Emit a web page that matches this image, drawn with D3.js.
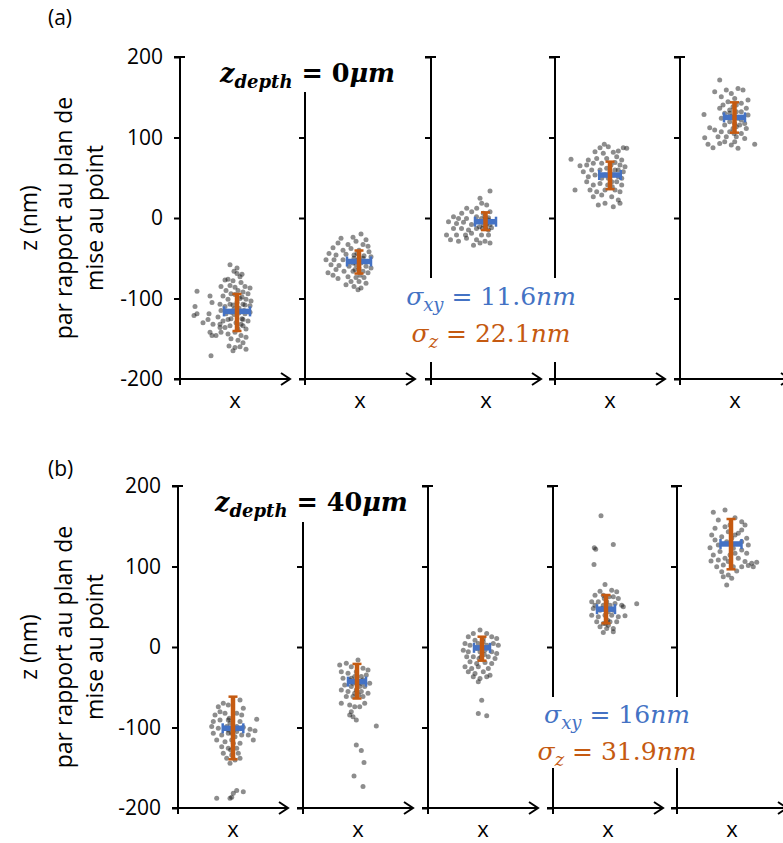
<!DOCTYPE html>
<html><head><meta charset="utf-8">
<script src="https://cdn.jsdelivr.net/npm/d3@7"></script>
<style>body{margin:0;background:#fff;} svg{display:block;}</style>
</head><body>
<svg id="chart" width="783" height="843"></svg>
<script>
// ---------------- DATA ----------------
const panelLabels = ["(a)", "(b)"];
const depthValues = ["0", "40"];
const sigmaXYValues = ["11.6", "16"];
const sigmaZValues = ["22.1", "31.9"];
const yTickValues = [-200, -100, 0, 100, 200];
const yAxisTitle = ["z (nm)", "par rapport au plan de", "mise au point"];
const xAxisLabel = "x";

// panel (a) cluster summaries (nm)
const meanXA = [2, -1, -0.5, 0, -0.5];
const meanZA = [-116, -54, -4.6, 53.4, 125];
const errXYA = [13, 12, 10.5, 10.8, 10.5];
const errZLowA = [-140.4, -69, -15, 35.8, 106];
const errZHighA = [-94.4, -40.4, 7, 70, 143.7];

// panel (b) cluster summaries (nm)
const meanXB = [0, -1, -1, -2, -1];
const meanZB = [-101, -43, -1, 47, 128];
const errXYB = [10.3, 9, 8, 9, 10.5];
const errZLowB = [-139.5, -64, -17, 29.4, 96.5];
const errZHighB = [-61.7, -21, 12.8, 64.6, 159];

// localisations: [x offset from mean (nm), z (nm)]
const pointsA1 = [[0,-69],[3,-73],[-9,-76],[-4,-78],[-12,-77],[4,-80],[-7,-84],[-2,-86],[8,-85],[13,-87],[-16,-85],[-11,-90],[1,-90],[6,-92],[11,-94],[-6,-94],[-14,-97],[-9,-101],[9,-101],[14,-103],[-17,-107],[-12,-110],[-7,-107],[6,-107],[13,-109],[-16,-115],[-11,-119],[-6,-117],[8,-119],[13,-117],[-19,-123],[-14,-128],[-9,-126],[6,-126],[11,-128],[-17,-132],[-12,-136],[-7,-134],[6,-134],[9,-138],[-16,-142],[-9,-144],[-2,-142],[4,-146],[9,-148],[-6,-150],[1,-152],[6,-155],[-8,-159],[-2,-161],[3,-160],[9,-163],[-4,-165],[-40,-91],[-27,-97],[-25,-105],[-42,-110],[-40,-119],[-28,-119],[-43,-121],[-29,-126],[-34,-130],[-24,-132],[-27,-142],[-25,-146],[-21,-146],[-26,-171],[-17,-136],[0,-105],[2,-112],[-3,-120],[5,-125],[-1,-130],[3,-100],[-4,-108],[7,-115],[1,-138],[-2,-95],[4,-132],[-6,-125],[8,-108],[2,-118],[-3,-113],[5,-98],[-7,-58],[0,-62],[-3,-66],[5,-70]];
const pointsA2 = [[2,-20],[-6,-24],[7,-27],[-18,-25],[-21,-31],[-3,-29],[-11,-33],[4,-33],[9,-35],[-26,-37],[-16,-40],[-8,-38],[0,-40],[10,-42],[-30,-44],[-23,-46],[-13,-45],[-5,-46],[5,-47],[12,-48],[-33,-52],[-25,-52],[-16,-52],[-8,-54],[9,-54],[-28,-58],[-20,-59],[-10,-60],[7,-60],[12,-62],[-23,-64],[-15,-66],[-6,-66],[4,-66],[9,-68],[-31,-68],[-26,-71],[-11,-73],[-3,-74],[5,-74],[-21,-75],[-8,-79],[0,-79],[7,-81],[-13,-83],[-5,-85],[2,-87],[-1,-89],[-5,-50],[-1,-52],[2,-56],[-3,-58],[0,-62],[-6,-56],[4,-50],[-2,-44],[1,-71],[-4,-64]];
const pointsA3 = [[4.5,33.5],[-5.5,24.4],[-3.8,18.2],[-18.8,12],[1.2,16],[-8.8,12],[-13.8,7.8],[-23.8,5.8],[-2.2,5.8],[4.5,7.8],[-32,1.6],[-27,-0.5],[-19,-0.5],[-9,1.6],[3,0.4],[-37,-4.6],[-29,-6.7],[-22,-5.4],[-14,-8],[4.5,-8],[8,-4.6],[-32,-13],[-24,-13],[-17,-15],[-9,-13],[3,-15],[6,-12],[-39,-21],[-29,-21],[-20,-21],[-14,-19],[-4,-21],[3,-21],[-35,-27],[-27,-29],[-19,-25],[-9,-27],[-0.5,-29],[4.5,-31],[-12,-34],[-5.5,-31],[-4,-0.5],[-0.5,1.6],[1,-6.7],[-2,-8.7],[-5.5,-4.6],[3,-2.5],[-3,-13],[0.5,-11],[-6,-11]];
const pointsA4 = [[-5.7,91.5],[-10,87.4],[-1.7,88.6],[13.3,87.4],[16.7,86.5],[-15,82.4],[-6.7,80.3],[3.3,81.6],[8.3,83.2],[-21.7,72],[-13.3,74],[-3.3,74],[6.7,76.2],[11.7,72],[-30,65],[-23.3,65.8],[-16.7,67.9],[-8.3,67.9],[5,69],[10,65.8],[15,63.8],[-26.7,57.5],[-18.3,59.6],[-10,59.6],[8.3,59.6],[13.3,57.5],[-21.7,51.3],[-15,53.4],[-8.3,49.3],[8.3,51.3],[11.7,49.3],[-35,34.8],[-23.3,45.1],[-16.7,41],[-10,43],[6.7,45.1],[11.7,41],[-20,34.8],[-13.3,32.7],[-5,34.8],[5,34.8],[10,32.7],[-16.7,26.5],[-8.3,28.6],[1.7,26.5],[8.3,22.3],[-11.7,16.1],[-5,18.2],[3.3,14],[10,18.2],[-39,72.9],[-3.3,61.7],[0,57.5],[3.3,53.4],[-1.7,49.3],[1.7,45.1],[-5,53.4],[5,59.6],[-2.3,41],[1,65.8],[2.3,38.9]];
const pointsA5 = [[-14.8,171.4],[-19.8,156.9],[-8.2,159],[3.5,161],[8.5,159],[-3.2,154.8],[-13.2,150.7],[13.5,146.5],[0.2,148.6],[-6.5,144.5],[6.8,142.4],[-11.5,140.3],[-14.8,136.2],[11.8,136.2],[-4.8,134.1],[6.8,132],[-9.8,130],[13.5,127.9],[-30.5,128.7],[-13.2,123.8],[-4.8,119.6],[6.8,121.7],[10.2,117.5],[-24.8,112.2],[-9.8,115.5],[1.8,113.4],[11.8,111.3],[-19.8,109.3],[-13.2,107.2],[-4.8,107.2],[6.8,105.1],[-29.8,99.7],[-16.5,101],[-8.2,101],[1.8,101],[10.2,98.9],[-26.5,91.5],[-21.5,87.3],[-14.8,92.7],[-3.2,90.6],[3.5,86.5],[20.2,91.5],[-9.8,94.8],[0.2,94.8],[-1.5,138.2],[1.8,132],[-3.2,125.8],[3.5,123.8],[0.2,117.5],[-1.5,111.3],[1.8,140.3],[-4.8,130],[5.2,115.5],[-0.5,105.1]];
const pointsB1 = [[-9.7,-69.9],[-14.7,-74.1],[7,-65.8],[-4.7,-72],[-13,-80.3],[10.3,-76.2],[-18,-84.4],[-8,-82.4],[3.7,-82.4],[8.7,-84.4],[-19.7,-92.7],[-13,-90.6],[-4.7,-90.6],[7,-92.7],[23.7,-89.8],[-21.3,-98.9],[-14.7,-101],[-6.3,-98.9],[10.3,-99.8],[17,-102.2],[22,-103.9],[-19.7,-107.2],[-11.3,-109.3],[-4.7,-107.2],[8.7,-109.3],[15.3,-109.3],[20.3,-115.5],[-16.3,-115.5],[-8,-117.6],[-1.3,-115.5],[7,-119.6],[-11.3,-123.8],[-4.7,-125.8],[3.7,-125.8],[-9.7,-132],[-1.3,-134.1],[5.3,-132],[-6.3,-138.3],[2,-140.3],[7,-138.3],[-3,-144.5],[-16.3,-188],[-1.3,-186.7],[3.7,-178.4],[0.3,-181.7],[10.3,-179.7],[-3,-188],[-3,-94.8],[0.3,-103.1],[2,-111.4],[-1.3,-107.2],[3.7,-98.9],[-3.7,-88.6],[0.3,-119.6],[-2.3,-127.9],[3.7,-105.1],[-4.7,-103.1]];
const pointsB2 = [[1,-16.1],[-10.7,-20.2],[-17.3,-22.3],[-5.7,-24.4],[6,-26.4],[11,-28.5],[-15.7,-30.6],[-9,-32.7],[-0.7,-30.6],[9.3,-34.7],[-14,-38.9],[-7.3,-40.9],[6,-40.9],[12.7,-45.1],[-12.3,-47.1],[-5.7,-49.2],[7.7,-49.2],[-15.7,-53.4],[-9,-55.4],[4.3,-55.4],[11,-57.5],[-10.7,-61.6],[-4,-61.6],[6,-61.6],[-15.7,-69.9],[-7.3,-72],[-2.3,-74.1],[2.7,-74.1],[7.7,-69.9],[-5.7,-80.3],[-4,-86.5],[-0.7,-90.6],[-7.3,-84.4],[19.3,-98.1],[-0.7,-121.7],[4.3,-128.7],[7,-143.6],[-3,-160.2],[6,-173.4],[-2.3,-36.8],[1,-43],[2.7,-49.2],[-0.7,-53.4],[-4,-45.1],[4.3,-36.8],[-2.3,-57.5],[1.7,-59.6],[-5.7,-38.9],[4.3,-45.1]];
const pointsB3 = [[-2,21],[-8.7,16.8],[4.7,16.8],[-13.7,12.7],[9.7,12.7],[14.7,10.6],[-7,8.5],[1.3,10.6],[-17,4.4],[-12,2.3],[11.3,4.4],[16.3,2.3],[-18.7,-3.9],[-13.7,-6],[9.7,-6],[14.7,-8],[-15.3,-12.2],[-8.7,-12.2],[6.3,-12.2],[13,-14.2],[-12,-18.4],[-5.3,-20.5],[3,-19.2],[9.7,-20.5],[-17,-24.6],[-10.3,-26.7],[-3.7,-24.6],[6.3,-26.7],[-13.7,-30.8],[-7,-32.9],[1.3,-30.8],[8,-35],[-8.7,-37],[-2,-39.1],[4.7,-37],[-3.7,-43.2],[-0.3,-66],[-3.7,-82.6],[4.7,-85.5],[-3.7,4.4],[-0.3,0.2],[3,-3.9],[-2,-6],[1.3,6.5],[-5.3,-1.8],[4.7,2.3],[-1,-12.2],[2.3,-9.3],[-3,-14.2]];
const pointsB4 = [[-5,162.9],[-11.7,123.2],[-10.3,121.5],[7.3,127.3],[-12,102.5],[30.7,53.6],[-1,77.6],[-6,69.4],[5.7,70.6],[10.7,68.5],[-11,64.4],[-2.7,64.4],[7.3,62.3],[12.3,60.2],[-14.3,56.1],[-7.7,56.1],[9,54],[15.7,52],[-12.7,47.8],[-6,45.8],[7.3,45.8],[17.3,49.9],[-14.3,39.5],[-7.7,37.5],[5.7,39.5],[12.3,37.5],[19,38.7],[-9.3,31.3],[-2.7,29.2],[4,31.3],[10.7,31.3],[-6,25.1],[0.7,23],[7.3,23],[-2.7,18],[7.3,18.8],[2.3,27.1],[-11,52],[-2.7,52],[0.7,56.1],[2.3,43.7],[-1,39.5],[-4.3,47.8],[4,52],[1.7,33.3],[-1.7,60.2],[3,62.3],[-0.3,29.2]];
const pointsB5 = [[-17.7,167.3],[-6,170.2],[-12.7,157.8],[4,160.7],[10.7,155.7],[14,151.6],[-16,147.5],[-6,149.5],[10.7,145.4],[-19.3,139.2],[-9.3,137.1],[7.3,141.2],[15.7,135],[-21,123.4],[-12.7,126.8],[10.7,130.9],[17.3,126.8],[-17.7,114.3],[-11,118.5],[10.7,120.5],[15.7,116.4],[-20,106.9],[-12.7,108.1],[-6,110.2],[7.3,110.2],[14,106.1],[20.7,104],[25.7,105.2],[-14.3,99.8],[-7.7,101.9],[10.7,99.8],[17.3,101.1],[-9.3,93.6],[-2.7,89.5],[5.7,94.5],[-7.7,87.4],[0.7,85.4],[-4.3,77.1],[22.3,99.8],[-16,133],[-2.7,143.3],[0.7,135],[2.3,122.6],[-1,114.3],[-4.3,130.9],[4,139.2],[-2.7,106.1],[2.3,99.8],[-1,151.6],[4,116.4]];

// ---------------- LAYOUT ----------------
const BLUE = "#4472C4", ORANGE = "#C55A11";
const SANS = "'Open Sans', 'Liberation Sans', sans-serif";
const SERIF = "'DejaVu Serif', 'Liberation Serif', serif";
const svg = d3.select("#chart");

const panels = [
  {label: panelLabels[0], depth: depthValues[0], sxy: sigmaXYValues[0], sz: sigmaZValues[0],
   meanX: meanXA, meanZ: meanZA, errXY: errXYA, zLo: errZLowA, zHi: errZHighA,
   points: [pointsA1, pointsA2, pointsA3, pointsA4, pointsA5],
   axisX: [180, 305, 431, 555, 680], top: 57, bottom: 379, axis2Top: 92,
   labelY: 25, titleX: 220, titleY: 82, sigmaX: 491, sigmaY1: 305, sigmaY2: 342,
   gap: {x: 404, y: 278, w: 176, h: 84}},
  {label: panelLabels[1], depth: depthValues[1], sxy: sigmaXYValues[1], sz: sigmaZValues[1],
   meanX: meanXB, meanZ: meanZB, errXY: errXYB, zLo: errZLowB, zHi: errZHighB,
   points: [pointsB1, pointsB2, pointsB3, pointsB4, pointsB5],
   axisX: [178, 303, 428, 553, 677], top: 486, bottom: 808, axis2Top: 522,
   labelY: 476, titleX: 215, titleY: 511, sigmaX: 617, sigmaY1: 723, sigmaY2: 760,
   gap: {x: 536, y: 697, w: 165, h: 71}}
];

panels.forEach(P => {
  const g = svg.append("g");
  const y = d3.scaleLinear().domain([-200, 200]).range([P.bottom, P.top]);

  g.append("text").attr("x", 48).attr("y", P.labelY)
    .attr("font-family", SANS).attr("font-size", 21).text(P.label);

  // y-axis title
  const yc = (P.top + P.bottom) / 2;
  [28, 63, 94].forEach((xx, i) => {
    g.append("text").attr("transform", `translate(${xx},${yc}) rotate(-90)`)
      .attr("text-anchor", "middle").attr("dominant-baseline", "central")
      .attr("font-family", SANS).attr("font-size", 23).text(yAxisTitle[i]);
  });

  P.axisX.forEach((ax, k) => {
    const x = d3.scaleLinear().domain([-55, 55]).range([ax, ax + 110]);
    const sg = g.append("g");
    // y axis
    const ticks = k === 1 ? yTickValues.filter(v => v < 200) : yTickValues;
    const axis = d3.axisLeft(y).tickValues(ticks).tickSize(6).tickSizeOuter(0)
      .tickFormat(d => d < 0 ? "-" + Math.abs(d) : String(d));
    const ag = sg.append("g").attr("transform", `translate(${ax},0)`).call(axis);
    ag.select(".domain").remove();
    ag.selectAll(".tick line").attr("stroke", "#000").attr("stroke-width", 2);
    if (k === 0) {
      ag.selectAll(".tick text").attr("font-family", SANS).attr("font-size", 21)
        .attr("fill", "#000").attr("x", -17);
    } else {
      ag.selectAll(".tick text").remove();
    }
    const top = k === 1 ? P.axis2Top : y(200);
    sg.append("line").attr("x1", ax).attr("x2", ax).attr("y1", top).attr("y2", P.bottom + 6)
      .attr("stroke", "#000").attr("stroke-width", 2);
    if (k !== 1) sg.append("line").attr("x1", ax - 6).attr("x2", ax + 5)
      .attr("y1", y(200)).attr("y2", y(200)).attr("stroke", "#000").attr("stroke-width", 2);
    // x axis with arrow
    const xe = x.range()[1];
    sg.append("line").attr("x1", ax - 6).attr("x2", xe).attr("y1", P.bottom).attr("y2", P.bottom)
      .attr("stroke", "#000").attr("stroke-width", 2);
    sg.append("path").attr("d", `M${xe - 9},${P.bottom - 6}L${xe},${P.bottom}L${xe - 9},${P.bottom + 6}`)
      .attr("fill", "none").attr("stroke", "#000").attr("stroke-width", 2);
    sg.append("text").attr("x", x(0)).attr("y", P.bottom + 29).attr("text-anchor", "middle")
      .attr("font-family", SANS).attr("font-size", 22).text(xAxisLabel);

    // points
    const mx = P.meanX[k];
    sg.append("g").selectAll("circle").data(P.points[k]).join("circle")
      .attr("cx", d => x(mx + d[0])).attr("cy", d => y(d[1])).attr("r", 2.5)
      .attr("fill", "#111").attr("fill-opacity", 0.48);

    // blue xy error bar
    const bz = y(P.meanZ[k]);
    const bx0 = x(mx - P.errXY[k]), bx1 = x(mx + P.errXY[k]);
    sg.append("line").attr("x1", bx0).attr("x2", bx1).attr("y1", bz).attr("y2", bz)
      .attr("stroke", BLUE).attr("stroke-width", 5.5);
    [bx0, bx1].forEach(bx => sg.append("line").attr("x1", bx).attr("x2", bx)
      .attr("y1", bz - 5).attr("y2", bz + 5).attr("stroke", BLUE).attr("stroke-width", 2.5));
    // orange z error bar
    const ox = x(mx);
    sg.append("line").attr("x1", ox).attr("x2", ox).attr("y1", y(P.zHi[k])).attr("y2", y(P.zLo[k]))
      .attr("stroke", ORANGE).attr("stroke-width", 4.5);
    [P.zHi[k], P.zLo[k]].forEach(v => sg.append("line").attr("x1", ox - 4.5).attr("x2", ox + 4.5)
      .attr("y1", y(v)).attr("y2", y(v)).attr("stroke", ORANGE).attr("stroke-width", 2.5));
  });

  // title
  const t = g.append("text").attr("x", P.titleX).attr("y", P.titleY)
    .attr("font-family", SERIF).attr("font-weight", "bold").attr("font-size", 25.5);
  t.append("tspan").attr("font-style", "italic").text("z");
  t.append("tspan").attr("font-style", "italic").attr("font-size", 18).attr("dy", 6).text("depth");
  t.append("tspan").attr("dy", -6).text(" = " + P.depth);
  t.append("tspan").attr("font-style", "italic").text("\u03BCm");

  // sigma box (white background interrupts axes)
  g.append("rect").attr("x", P.gap.x).attr("y", P.gap.y).attr("width", P.gap.w).attr("height", P.gap.h)
    .attr("fill", "#fff");
  const s1 = g.append("text").attr("x", P.sigmaX).attr("y", P.sigmaY1).attr("text-anchor", "middle")
    .attr("font-family", SERIF).attr("font-size", 25).attr("fill", BLUE);
  s1.append("tspan").attr("font-style", "italic").text("\u03C3");
  s1.append("tspan").attr("font-style", "italic").attr("font-size", 18).attr("dy", 6).text("xy");
  s1.append("tspan").attr("dy", -6).text(" = " + P.sxy);
  s1.append("tspan").attr("font-style", "italic").text("nm");
  const s2 = g.append("text").attr("x", P.sigmaX).attr("y", P.sigmaY2).attr("text-anchor", "middle")
    .attr("font-family", SERIF).attr("font-size", 25).attr("fill", ORANGE);
  s2.append("tspan").attr("font-style", "italic").text("\u03C3");
  s2.append("tspan").attr("font-style", "italic").attr("font-size", 18).attr("dy", 6).text("z");
  s2.append("tspan").attr("dy", -6).text(" = " + P.sz);
  s2.append("tspan").attr("font-style", "italic").text("nm");
});
</script>
</body></html>
